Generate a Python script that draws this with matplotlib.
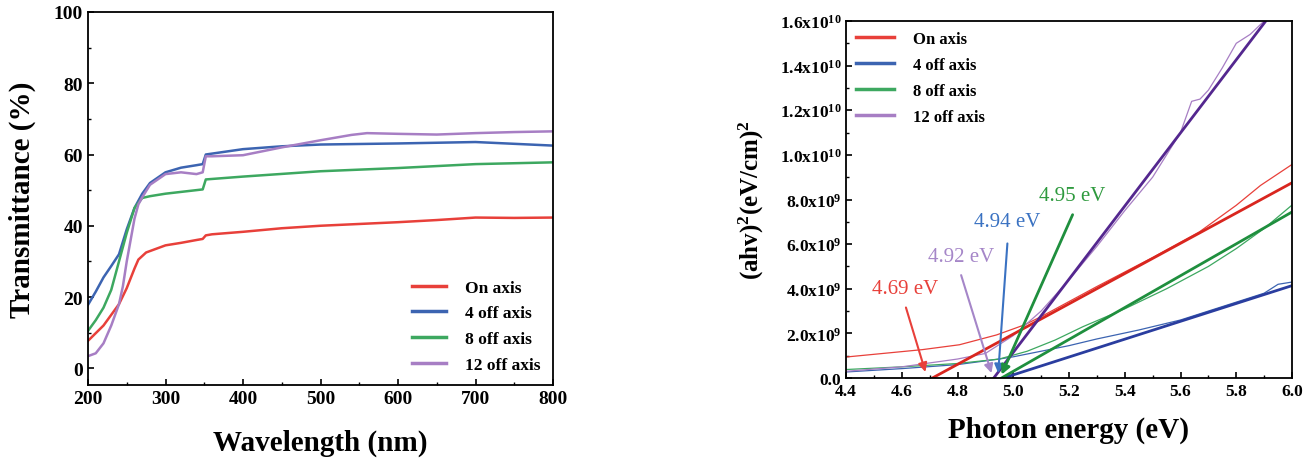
import matplotlib
matplotlib.use("Agg")
import matplotlib.pyplot as plt
from matplotlib.ticker import MultipleLocator, FuncFormatter

plt.rcParams['font.family'] = ['Liberation Serif', 'DejaVu Serif']
plt.rcParams['font.weight'] = 'bold'
plt.rcParams['mathtext.fontset'] = 'custom'
plt.rcParams['mathtext.rm'] = 'Liberation Serif:bold'
plt.rcParams['mathtext.bf'] = 'Liberation Serif:bold'
plt.rcParams['mathtext.it'] = 'Liberation Serif:bold'
plt.rcParams['mathtext.default'] = 'bf'

# ---------------- Left panel data ----------------
series_names = ["On axis", "4 off axis", "8 off axis", "12 off axis"]
colors = ["#E8403A", "#3C64B1", "#3DA860", "#A77EC4"]

wl_on = [200, 220, 240, 250, 260, 265, 275, 300, 320, 340, 348, 352, 360, 400, 450, 500, 550, 600, 650, 700, 750, 800]
t_on = [7.7, 12, 18, 22.5, 28, 30.5, 32.5, 34.5, 35.2, 36, 36.3, 37.3, 37.6, 38.3, 39.3, 40, 40.5, 41, 41.6, 42.3, 42.2, 42.3]

wl_4 = [200, 210, 220, 230, 240, 250, 260, 270, 280, 300, 320, 340, 348, 352, 400, 450, 500, 600, 700, 750, 800]
t_4 = [17.8, 21.5, 25.5, 28.7, 32, 39, 45, 49, 52, 55, 56.3, 57, 57.3, 60, 61.5, 62.3, 62.8, 63.1, 63.5, 63, 62.5]

wl_8 = [200, 210, 220, 230, 240, 250, 260, 270, 280, 300, 340, 348, 352, 400, 500, 600, 700, 800]
t_8 = [10.5, 13.5, 17, 22, 30, 38, 45, 47.8, 48.3, 49, 50, 50.2, 53, 53.8, 55.3, 56.2, 57.3, 57.8]

wl_12 = [200, 210, 220, 230, 240, 245, 250, 255, 260, 265, 270, 280, 300, 320, 340, 348, 352, 360, 400, 450, 500, 540, 560, 600, 650, 700, 750, 800]
t_12 = [3.4, 4.2, 7, 12, 18, 23, 30, 36, 42, 46, 48, 51.5, 54.5, 55, 54.5, 55, 59.5, 59.5, 59.8, 62, 64, 65.5, 66, 65.8, 65.6, 66, 66.3, 66.5]

# ---------------- Right panel data ----------------
e_on = [4.4, 4.673, 4.807, 4.94, 5.04, 5.1, 5.3, 5.5, 5.668, 5.8, 5.887, 6.0]
a_on = [0.94e9, 1.27e9, 1.49e9, 1.93e9, 2.38e9, 2.75e9, 4.1e9, 5.4e9, 6.55e9, 7.74e9, 8.63e9, 9.57e9]
fit_on_x = [4.71, 6.0]
fit_on_y = [0.0, 8.75e9]

e_4 = [4.4, 4.6, 4.8, 4.95, 5.0, 5.1, 5.2, 5.3, 5.45, 5.6, 5.8, 5.9, 5.95, 6.0]
a_4 = [0.27e9, 0.42e9, 0.6e9, 0.85e9, 0.95e9, 1.2e9, 1.45e9, 1.75e9, 2.15e9, 2.6e9, 3.4e9, 3.8e9, 4.2e9, 4.3e9]
fit_4_x = [4.965, 6.0]
fit_4_y = [0.0, 4.14e9]

e_8 = [4.4, 4.6, 4.8, 4.95, 5.05, 5.15, 5.25, 5.4, 5.55, 5.7, 5.8, 5.9, 6.0]
a_8 = [0.38e9, 0.5e9, 0.65e9, 0.85e9, 1.2e9, 1.7e9, 2.3e9, 3.1e9, 4.0e9, 5.0e9, 5.8e9, 6.7e9, 7.75e9]
fit_8_x = [4.958, 6.0]
fit_8_y = [0.0, 7.44e9]

e_12 = [4.4, 4.6, 4.8, 4.9, 5.0, 5.1, 5.2, 5.3, 5.4, 5.5, 5.6, 5.64, 5.67, 5.7, 5.75, 5.8, 5.85, 5.9]
a_12 = [0.3e9, 0.5e9, 0.85e9, 1.1e9, 1.9e9, 3.0e9, 4.4e9, 5.9e9, 7.5e9, 9.0e9, 11.0e9, 12.4e9, 12.5e9, 12.9e9, 13.9e9, 15.0e9, 15.4e9, 16.0e9]
fit_12_x = [4.93, 5.906]
fit_12_y = [0.0, 1.6e10]

fit_colors = ["#D9261F", "#2A3D9F", "#1F8F3E", "#54278F"]

# Band-gap annotations
gap_labels = ["4.69 eV", "4.92 eV", "4.94 eV", "4.95 eV"]
gap_text_colors = ["#E8403A", "#A586C8", "#3A72C2", "#2E9A3E"]
gap_text_xy = [(4.612, 4.02e9), (4.813, 5.43e9), (4.979, 7.0e9), (5.21, 8.2e9)]
gap_arrow_start = [(4.615, 3.16e9), (4.813, 4.61e9), (4.979, 6.03e9), (5.213, 7.32e9)]
gap_arrow_end = [(4.685, 0.27e9), (4.922, 0.22e9), (4.946, 0.22e9), (4.958, 0.15e9)]
gap_arrow_colors = ["#E8403A", "#A586C8", "#3A72C2", "#1F8F3E"]
gap_arrow_lw = [1.5, 1.5, 1.5, 2.0]

fig = plt.figure(figsize=(13.11, 4.6), dpi=100)

# ---------------- Left axes ----------------
ax1 = fig.add_axes([88 / 1311, 1 - 386 / 460, (553 - 88) / 1311, (386 - 13) / 460])
for x, y, c, n in zip([wl_on, wl_4, wl_8, wl_12], [t_on, t_4, t_8, t_12], colors, series_names):
    ax1.plot(x, y, color=c, lw=1.8, label=n)
ax1.set_xlim(200, 800)
ax1.set_ylim(-4.7, 100)
ax1.xaxis.set_major_locator(MultipleLocator(100))
ax1.xaxis.set_minor_locator(MultipleLocator(50))
ax1.yaxis.set_major_locator(MultipleLocator(20))
ax1.yaxis.set_minor_locator(MultipleLocator(10))
ax1.tick_params(which='both', direction='in', labelsize=14)
ax1.tick_params(which='major', length=4, width=1.2)
ax1.tick_params(which='minor', length=2.5, width=1.0)
ax1.set_xlabel("Wavelength (nm)", fontsize=21, fontweight='bold', labelpad=16)
ax1.set_ylabel("Transmittance (%)", fontsize=21, fontweight='bold', labelpad=13)
for s in ax1.spines.values():
    s.set_linewidth(1.3)
leg1 = ax1.legend(loc='lower right', frameon=False, handlelength=2.0,
                  labelspacing=0.55, handletextpad=1.1, borderaxespad=0.3,
                  prop={'weight': 'bold', 'size': 12.5})
for line in leg1.get_lines():
    line.set_linewidth(2.5)

# ---------------- Right axes ----------------
ax2 = fig.add_axes([846 / 1311, 1 - 379 / 460, (1292 - 846) / 1311, (379 - 22) / 460])
data_x = [e_on, e_4, e_8, e_12]
data_y = [a_on, a_4, a_8, a_12]
fits_x = [fit_on_x, fit_4_x, fit_8_x, fit_12_x]
fits_y = [fit_on_y, fit_4_y, fit_8_y, fit_12_y]
for x, y, c, n in zip(data_x, data_y, colors, series_names):
    ax2.plot(x, y, color=c, lw=0.9, label=n)
for x, y, c in zip(fits_x, fits_y, fit_colors):
    ax2.plot(x, y, color=c, lw=2.0)

for lab, tc, txy, st, en, ac, alw in zip(gap_labels, gap_text_colors, gap_text_xy,
                                          gap_arrow_start, gap_arrow_end, gap_arrow_colors, gap_arrow_lw):
    ax2.annotate('', xy=en, xytext=st,
                 arrowprops=dict(arrowstyle='-|>', color=ac, lw=alw, mutation_scale=13,
                                 shrinkA=0, shrinkB=0))
    ax2.text(txy[0], txy[1], lab, color=tc, fontsize=15, fontweight='normal',
             ha='center', va='center')

ax2.set_xlim(4.4, 6.0)
ax2.set_ylim(0, 1.6e10)
ax2.xaxis.set_major_locator(MultipleLocator(0.2))
ax2.xaxis.set_minor_locator(MultipleLocator(0.1))
ax2.yaxis.set_major_locator(MultipleLocator(2e9))
ax2.yaxis.set_minor_locator(MultipleLocator(1e9))


def yfmt(v, pos):
    if abs(v) < 1:
        return "0.0"
    exp = 9 if v < 9.99e9 else 10
    mant = v / 10 ** exp
    return "%.1fx10$^{%d}$" % (mant, exp)


ax2.yaxis.set_major_formatter(FuncFormatter(yfmt))
ax2.xaxis.set_major_formatter(FuncFormatter(lambda v, p: "%.1f" % v))
ax2.tick_params(which='both', direction='in', labelsize=12.5)
ax2.tick_params(which='major', length=4, width=1.2)
ax2.tick_params(which='minor', length=2.5, width=1.0)
ax2.set_xlabel("Photon energy (eV)", fontsize=21, fontweight='bold', labelpad=12)
ax2.set_ylabel("(ahv)$^{2}$(eV/cm)$^{2}$", fontsize=18, fontweight='bold', labelpad=10)
for s in ax2.spines.values():
    s.set_linewidth(1.3)
leg2 = ax2.legend(loc='upper left', frameon=False, handlelength=2.3,
                  labelspacing=0.6, handletextpad=1.1, borderaxespad=0.2,
                  prop={'weight': 'bold', 'size': 12})
for line in leg2.get_lines():
    line.set_linewidth(2.5)

fig.savefig("out.png", dpi=100)
